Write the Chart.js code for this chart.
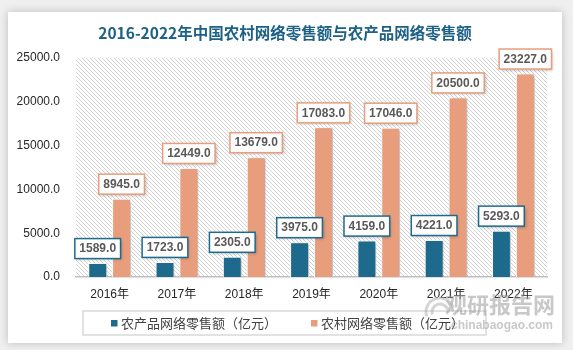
<!DOCTYPE html>
<html>
<head>
<meta charset="utf-8">
<script src="https://cdn.jsdelivr.net/npm/chart.js@4"></script>
<style>
  html, body { margin: 0; padding: 0; background: #efefef; }
  body { width: 573px; height: 350px; position: relative; overflow: hidden; }
  #card { position: absolute; left: 8px; top: 12px; width: 554px; height: 331px; background: #fff; box-shadow: 0 0 8px rgba(0,0,0,0.22); }
  #wrap { position: absolute; left: 0; top: 0; width: 573px; height: 350px; }
</style>
</head>
<body>
<div id="card"></div>
<div id="wrap"><canvas id="grafico"></canvas></div>
<script>
const titulo = '2016-2022年中国农村网络零售额与农产品网络零售额'
const categorias = ['2016年', '2017年', '2018年', '2019年', '2020年', '2021年', '2022年']
const nombres = ['农产品网络零售额（亿元）', '农村网络零售额（亿元）']
const agricola = [1589, 1723, 2305, 3975, 4159, 4221, 5293]
const rural = [8945, 12449, 13679, 17083, 17046, 20500, 23227]
const colores = ['#1d6a8c', '#e89d7c']

const FONT = '"Liberation Sans", "Noto Sans CJK SC", sans-serif'

// rayado diagonal del area del grafico
const trama = () => {
    const c = document.createElement('canvas')
    c.width = 4
    c.height = 4
    const x = c.getContext('2d')
    x.strokeStyle = '#d2d2d2'
    x.lineWidth = 1
    x.beginPath()
    x.moveTo(0, 0); x.lineTo(4, 4)
    x.moveTo(-1, 3); x.lineTo(1, 5)
    x.moveTo(3, -1); x.lineTo(5, 1)
    x.stroke()
    return x.createPattern(c, 'repeat')
}

const fondo = {
    id: 'fondo',
    beforeDraw(chart) {
        const { ctx, chartArea: a } = chart
        ctx.save()
        ctx.fillStyle = trama()
        ctx.fillRect(a.left, a.top, a.right - a.left, a.bottom - a.top)
        // titulo
        ctx.fillStyle = '#1d6186'
        ctx.font = 'bold 15.5px "Noto Sans CJK SC", sans-serif'
        ctx.textAlign = 'center'
        ctx.textBaseline = 'middle'
        ctx.fillText(titulo, 285, 33)
        ctx.restore()
    },
    beforeDatasetsDraw(chart) {
        const ctx = chart.ctx
        ctx.save()
        ctx.shadowColor = 'rgba(0,0,0,0.3)'
        ctx.shadowOffsetX = 2
        ctx.shadowOffsetY = 1
        ctx.shadowBlur = 3
    },
    afterDatasetsDraw(chart) {
        const ctx = chart.ctx
        ctx.restore()
        ctx.save()
        ctx.font = 'bold 12px ' + FONT
        ctx.textAlign = 'center'
        ctx.textBaseline = 'middle'
        chart.data.datasets.forEach((ds, i) => {
            chart.getDatasetMeta(i).data.forEach((bar, j) => {
                const txt = ds.data[j].toFixed(1)
                const w = ctx.measureText(txt).width + 9
                const h = 20
                const bx = bar.x - w / 2
                const by = bar.y - 4.5 - h
                ctx.save()
                ctx.shadowColor = 'rgba(0,0,0,0.25)'
                ctx.shadowOffsetX = 1.5
                ctx.shadowOffsetY = 1.5
                ctx.shadowBlur = 3
                ctx.fillStyle = '#fff'
                ctx.fillRect(bx, by, w, h)
                ctx.restore()
                ctx.strokeStyle = colores[i]
                ctx.lineWidth = 1.5
                ctx.strokeRect(bx, by, w, h)
                ctx.fillStyle = '#595959'
                ctx.fillText(txt, bar.x, by + h / 2 + 0.5)
            })
        })
        ctx.restore()
    },
    afterDraw(chart) {
        const ctx = chart.ctx
        ctx.save()
        // leyenda
        ctx.strokeStyle = '#d9d9d9'
        ctx.lineWidth = 1.5
        ctx.strokeRect(83, 311, 403, 24)
        ctx.font = '13px "Noto Sans CJK SC", sans-serif'
        ctx.textBaseline = 'middle'
        const xs = [111, 311]
        chart.data.datasets.forEach((ds, i) => {
            ctx.fillStyle = colores[i]
            ctx.fillRect(xs[i], 320, 6.5, 6.5)
            ctx.fillStyle = '#404040'
            ctx.fillText(ds.label, xs[i] + 10, 323.5)
        })
        // marca de agua
        ctx.globalAlpha = 0.55
        ctx.fillStyle = '#9a9a9a'
        ctx.font = 'bold 22px "Noto Sans CJK SC", sans-serif'
        ctx.textAlign = 'left'
        ctx.fillText('观研报告网', 445, 305)
        ctx.font = 'bold 12px ' + FONT
        ctx.fillText('chinabaogao.com', 451, 326)
        ctx.lineWidth = 3
        ctx.strokeStyle = '#b0b0b0'
        ctx.beginPath()
        ctx.arc(440, 312, 14, Math.PI * 0.9, Math.PI * 1.9)
        ctx.stroke()
        ctx.beginPath()
        ctx.arc(440, 312, 8, Math.PI * 0.9, Math.PI * 1.9)
        ctx.stroke()
        ctx.restore()
    }
}

const config = {
    type: 'bar',
    data: {
        labels: categorias,
        datasets: [
            { label: nombres[0], data: agricola, backgroundColor: colores[0] },
            { label: nombres[1], data: rural, backgroundColor: colores[1] },
        ],
    },
    options: {
        responsive: false,
        animation: false,
        devicePixelRatio: 1,
        layout: { padding: { left: 0, top: 58, right: 26, bottom: 48 } },
        datasets: {
            bar: {
                categoryPercentage: 0.71,
                barPercentage: 0.79,
                borderColor: '#ffffff',
                borderWidth: 1,
            }
        },
        plugins: {
            legend: { display: false },
            title: { display: false },
            tooltip: { enabled: false },
        },
        scales: {
            x: {
                grid: { display: false, drawTicks: false },
                border: { display: true, color: '#bfbfbf', width: 1.5 },
                ticks: { color: '#262626', font: { size: 12, family: FONT }, padding: 10 },
                afterFit: s => { s.height = 25 },
            },
            y: {
                min: 0,
                max: 25000,
                grid: { display: false, drawTicks: false },
                border: { display: false },
                ticks: {
                    stepSize: 5000,
                    color: '#262626',
                    font: { size: 12, family: FONT },
                    padding: 16,
                    callback: v => v.toFixed(1),
                },
                afterFit: s => { s.width = 76 },
            },
        },
    },
    plugins: [fondo],
}

const canvas = document.getElementById('grafico')
canvas.width = 573
canvas.height = 350
const myChart = new Chart(canvas, config)
</script>
</body>
</html>
